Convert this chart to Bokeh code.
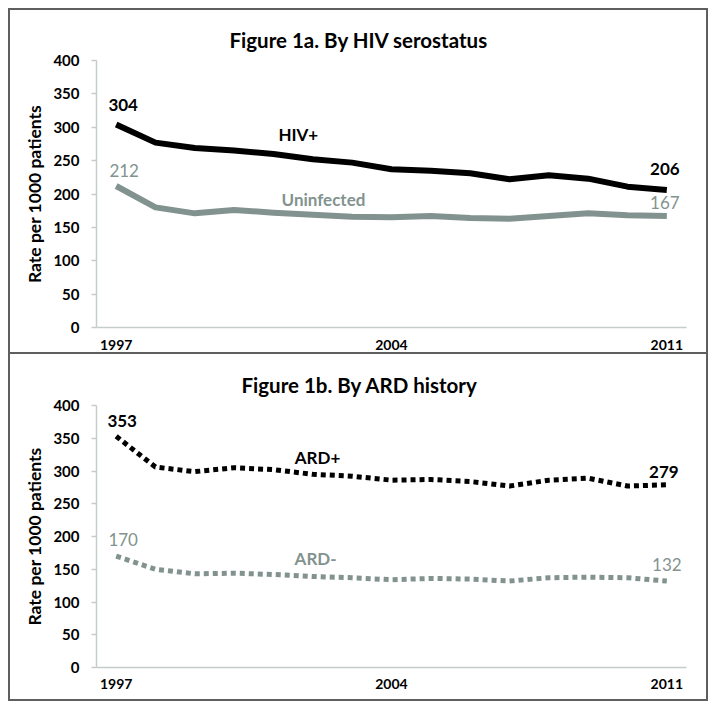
from bokeh.plotting import figure
from bokeh.layouts import column
from bokeh.models import ColumnDataSource, FixedTicker, Range1d
from bokeh.core.properties import value
from bokeh.embed import file_html
from bokeh.resources import INLINE

# ---------------- data ----------------
years = list(range(1997, 2012))
hiv_pos = [304, 277, 269, 265, 260, 252, 247, 237, 235, 231, 222, 228, 223, 211, 206]
uninfected = [212, 180, 171, 176, 172, 169, 166, 165, 167, 164, 163, 167, 171, 168, 167]
ard_pos = [353, 306, 299, 305, 302, 295, 292, 286, 287, 284, 277, 286, 289, 277, 279]
ard_neg = [170, 150, 143, 144, 142, 139, 137, 134, 136, 135, 132, 137, 138, 137, 132]
x_ticks = [1997, 2004, 2011]
y_ticks = [0, 50, 100, 150, 200, 250, 300, 350, 400]
titles = ["Figure 1a. By HIV serostatus", "Figure 1b. By ARD history"]
y_label = "Rate per 1000 patients"
series_names_a = ["HIV+", "Uninfected"]
series_names_b = ["ARD+", "ARD-"]

# ---------------- styles ----------------
FONT = "Lato"
BLACK = "#000000"
GREY = "#82938f"
AXIS = "#c3cdcc"
BORDER = "#5f5f5f"
W = 696


def make_panel(height, title, title_offset, top_border, mb_top, mb_bottom, x_standoff):
    b = f"2px solid {BORDER}"
    styles = {"box-sizing": "content-box", "border-left": b, "border-right": b,
              "border-bottom": b}
    if top_border:
        styles["border-top"] = b
    p = figure(width=W, height=height, output_backend="svg", toolbar_location=None,
               x_range=Range1d(1996.5, 2011.5), y_range=Range1d(0, 400),
               min_border_left=86, min_border_right=24,
               min_border_top=mb_top, min_border_bottom=mb_bottom,
               styles=styles)
    p.outline_line_color = None
    p.xgrid.visible = False
    p.ygrid.visible = False
    p.background_fill_color = "white"
    p.border_fill_color = "white"

    p.title.text = title
    p.title.align = "left"
    p.title.offset = title_offset
    p.title.standoff = 17
    p.title.text_font = FONT
    p.title.text_font_style = "bold"
    p.title.text_font_size = "20.5px"
    p.title.text_color = BLACK

    p.xaxis.ticker = FixedTicker(ticks=x_ticks)
    p.yaxis.ticker = FixedTicker(ticks=y_ticks)
    for ax in (p.xaxis[0], p.yaxis[0]):
        ax.axis_line_color = AXIS
        ax.axis_line_width = 1.5
        ax.minor_tick_line_color = None
        ax.major_label_text_font = FONT
        ax.major_label_text_font_style = "bold"
        ax.major_label_text_color = BLACK
    p.xaxis.major_tick_line_color = None
    p.xaxis.major_tick_out = 0
    p.xaxis.major_tick_in = 0
    p.xaxis.major_label_text_font_size = "14px"
    p.xaxis.major_label_standoff = x_standoff
    p.yaxis.major_tick_line_color = AXIS
    p.yaxis.major_tick_line_width = 1.5
    p.yaxis.major_tick_out = 5
    p.yaxis.major_tick_in = 0
    p.yaxis.major_label_text_font_size = "15px"
    p.yaxis.major_label_standoff = 12
    p.yaxis.axis_label = y_label
    p.yaxis.axis_label_text_font = FONT
    p.yaxis.axis_label_text_font_style = "bold"
    p.yaxis.axis_label_text_font_size = "17.5px"
    p.yaxis.axis_label_text_color = BLACK
    p.yaxis.axis_label_standoff = 5
    return p


def end_labels(p, series, color, style, offsets):
    src = ColumnDataSource(dict(
        x=[years[0], years[-1]],
        y=[series[0], series[-1]],
        t=[str(series[0]), str(series[-1])],
        dx=[offsets[0][0], offsets[1][0]],
        dy=[offsets[0][1], offsets[1][1]],
    ))
    p.text(x="x", y="y", text="t", x_offset="dx", y_offset="dy", source=src,
           text_align="center", text_baseline="middle", text_color=color,
           text_font=value(FONT), text_font_style=style, text_font_size="17px")


def name_label(p, x, y, txt, color):
    p.text(x=[x], y=[y], text=[txt], text_align="center", text_baseline="middle",
           text_color=color, text_font=value(FONT), text_font_style="bold",
           text_font_size="17px")


# ---------------- panel a ----------------
pa = make_panel(342, titles[0], 133, True, 50, 29, 12)
pa.line(years, hiv_pos, line_color=BLACK, line_width=6, line_join="round")
pa.line(years, uninfected, line_color=GREY, line_width=6, line_join="round")
end_labels(pa, hiv_pos, BLACK, "bold", [(7, -20), (-2, -21)])
end_labels(pa, uninfected, GREY, "normal", [(8, -15), (-2, -14)])
name_label(pa, 2001.63, 289, series_names_a[0], BLACK)
name_label(pa, 2002.27, 191.6, series_names_a[1], GREY)

# ---------------- panel b ----------------
pb = make_panel(345, titles[1], 145, False, 51, 34, 11)
pb.line(years, ard_pos, line_color=BLACK, line_width=5, line_dash="5 4", line_join="round")
pb.line(years, ard_neg, line_color=GREY, line_width=5, line_dash="5 4", line_join="round")
end_labels(pb, ard_pos, BLACK, "bold", [(6, -15), (-3, -13)])
end_labels(pb, ard_neg, GREY, "normal", [(7, -17), (0, -17)])
name_label(pb, 2002.12, 320, series_names_b[0], BLACK)
name_label(pb, 2002.07, 166, series_names_b[1], GREY)

layout = column(pa, pb, spacing=0, margin=(8, 0, 0, 8))
open("out.html", "w").write(file_html(layout, INLINE))
